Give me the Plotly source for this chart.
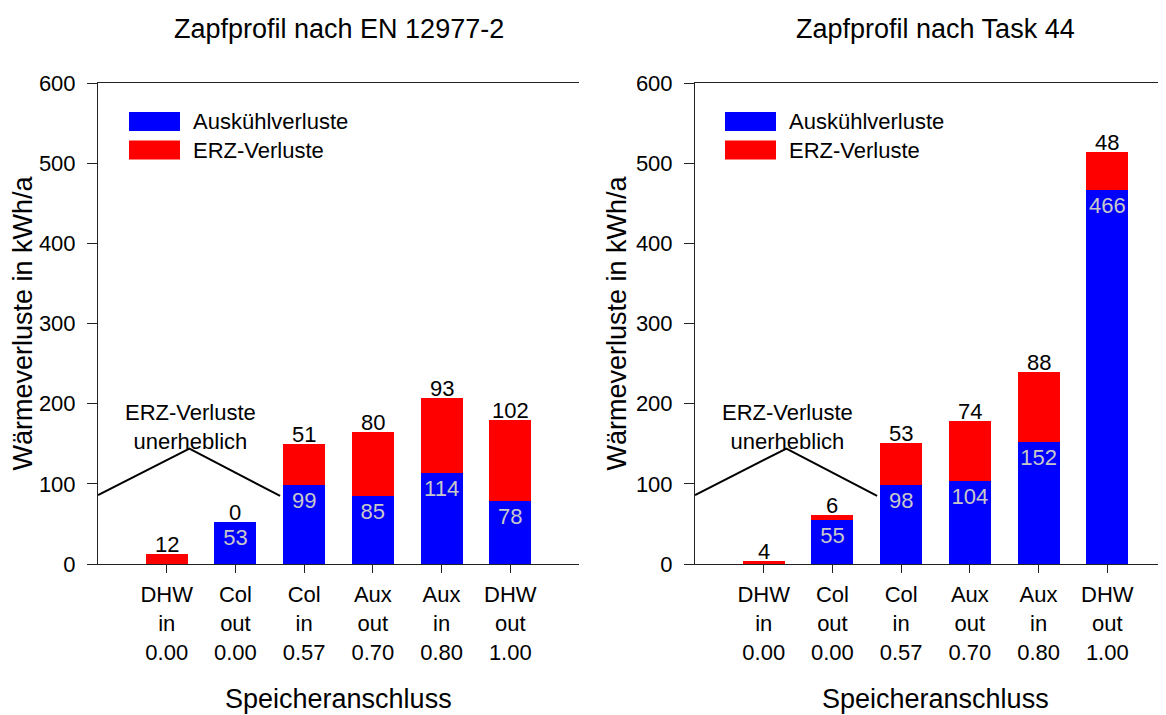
import plotly.graph_objects as go

# ---------------- data ----------------
categories = ["DHW<br>in<br>0.00", "Col<br>out<br>0.00", "Col<br>in<br>0.57",
              "Aux<br>out<br>0.70", "Aux<br>in<br>0.80", "DHW<br>out<br>1.00"]
positions = [0, 1, 2, 3, 4, 5]

en_auskuehl = [0, 53, 99, 85, 114, 78]
en_erz = [12, 0, 51, 80, 93, 102]

task_auskuehl = [0, 55, 98, 104, 152, 466]
task_erz = [4, 6, 53, 74, 88, 48]

y_ticks = [0, 100, 200, 300, 400, 500, 600]

titles = ["Zapfprofil nach EN 12977-2", "Zapfprofil nach Task 44"]
series_names = ["Auskühlverluste", "ERZ-Verluste"]
note_text = "ERZ-Verluste<br>unerheblich"
note_line_x = [-1, 0.33, 1.65]
note_line_y = [86, 144, 85]

# ---------------- style ----------------
FONT = "Liberation Sans, Arial, sans-serif"
BLUE = "#0000FF"
RED = "#FF0000"
INLABEL = "#C8C8C8"
TICK_SIZE = 22
TITLE_SIZE = 27
BAR_W = 0.61

OFF = 8            # page body margin
W, H = 1166 - OFF, 715 - OFF
PLOT_TOP, PLOT_BOT = 83, 564   # page pixels
PLOT_H = PLOT_BOT - PLOT_TOP


def px(p):
    return (p - OFF) / W


def py(p):
    return (PLOT_BOT - p) / PLOT_H


fig = go.Figure()

panels = [
    (en_auskuehl, en_erz, "x", "y"),
    (task_auskuehl, task_erz, "x2", "y2"),
]

annotations = []
for blue_vals, red_vals, xa, ya in panels:
    fig.add_trace(go.Bar(
        x=positions, y=blue_vals, name=series_names[0],
        marker=dict(color=BLUE, line=dict(width=0)), width=BAR_W,
        text=[str(v) if v else "" for v in blue_vals],
        textposition="inside", insidetextanchor="end", constraintext="none",
        textangle=0,
        textfont=dict(color=INLABEL, size=TICK_SIZE, family=FONT),
        xaxis=xa, yaxis=ya, showlegend=False, hoverinfo="skip",
    ))
    fig.add_trace(go.Bar(
        x=positions, y=red_vals, name=series_names[1],
        marker=dict(color=RED, line=dict(width=0)), width=BAR_W,
        xaxis=xa, yaxis=ya, showlegend=False, hoverinfo="skip",
    ))
    fig.add_trace(go.Scatter(
        x=note_line_x, y=note_line_y, mode="lines",
        line=dict(color="black", width=2), cliponaxis=False,
        xaxis=xa, yaxis=ya, showlegend=False, hoverinfo="skip",
    ))
    # red value labels sitting on top of each stack
    for p, b, r in zip(positions, blue_vals, red_vals):
        annotations.append(dict(text=str(r), x=p, y=b + r, xref=xa, yref=ya,
                                showarrow=False, xanchor="center", yanchor="bottom",
                                yshift=-5, font=dict(size=TICK_SIZE, family=FONT, color="black")))

axis_common = dict(showgrid=False, zeroline=False, showline=True, automargin=False,
                   linecolor="#222222", linewidth=1, tickcolor="#222222",
                   tickfont=dict(size=TICK_SIZE, family=FONT, color="black"))

x_px_per_unit = (579 - 98) / 7.0
right_w = 1166 - 695
x2_max = -1 + right_w / x_px_per_unit

fig.update_layout(
    width=W, height=H,
    margin=dict(l=0, r=0, t=PLOT_TOP - OFF, b=H - (PLOT_BOT - OFF)),
    paper_bgcolor="white", plot_bgcolor="white",
    barmode="stack",
    font=dict(family=FONT, color="black", size=TICK_SIZE),
    showlegend=False,
    xaxis=dict(domain=[px(98), px(579)], range=[-1, 6], anchor="y",
               tickvals=positions, ticktext=categories, ticks="outside", ticklen=8,
               ticklabelstandoff=3, mirror=True, **axis_common),
    yaxis=dict(domain=[0, 1], range=[0, 600], anchor="x", tickvals=y_ticks,
               ticks="outside", ticklen=10, mirror=False, ticklabelstandoff=7,
               title=dict(text="Wärmeverluste in kWh/a", font=dict(size=TITLE_SIZE, family=FONT),
                          standoff=1),
               **axis_common),
    yaxis3=dict(overlaying="y", anchor="x", range=[0, 600], tickvals=y_ticks,
                ticks="inside", ticklen=10, showticklabels=False, mirror="ticks",
                **axis_common),
    xaxis2=dict(domain=[px(695), 1.0], range=[-1, x2_max], anchor="y2",
                tickvals=positions, ticktext=categories, ticks="outside", ticklen=8,
                ticklabelstandoff=3, mirror=True, **axis_common),
    yaxis2=dict(domain=[0, 1], range=[0, 600], anchor="x2", tickvals=y_ticks,
                ticks="outside", ticklen=10, mirror=False, ticklabelstandoff=7,
                title=dict(text="Wärmeverluste in kWh/a", font=dict(size=TITLE_SIZE, family=FONT),
                           standoff=1),
                **axis_common),
    yaxis4=dict(overlaying="y2", anchor="x2", range=[0, 600], tickvals=y_ticks,
                ticks="inside", ticklen=10, showticklabels=False, mirror=False,
                **axis_common),
)

for xa, ya, title in [("x", "y", titles[0]), ("x2", "y2", titles[1])]:
    annotations.append(dict(text=title, x=2.5, xref=xa, y=py(29), yref="paper",
                            showarrow=False, xanchor="center", yanchor="middle",
                            font=dict(size=TITLE_SIZE, family=FONT)))
    annotations.append(dict(text="Speicheranschluss", x=2.5, xref=xa, y=py(699), yref="paper",
                            showarrow=False, xanchor="center", yanchor="middle",
                            font=dict(size=TITLE_SIZE, family=FONT)))
    annotations.append(dict(text=note_text, x=0.35, xref=xa, y=171, yref=ya,
                            showarrow=False, xanchor="center", yanchor="middle",
                            font=dict(size=TICK_SIZE, family=FONT)))

# manual legends (large swatches as in original)
shapes = []
legend_left = [129, 725]
for lx in legend_left:
    for j, (col, name) in enumerate([(BLUE, series_names[0]), (RED, series_names[1])]):
        top = 112 + j * 28.5
        shapes.append(dict(type="rect", xref="paper", yref="paper",
                           x0=px(lx), x1=px(lx + 51),
                           y0=py(top + 19), y1=py(top),
                           fillcolor=col, line=dict(width=0)))
        annotations.append(dict(text=name, xref="paper", yref="paper",
                                x=px(lx + 62), y=py(top + 10), showarrow=False,
                                xanchor="left", yanchor="middle",
                                font=dict(size=TICK_SIZE, family=FONT)))

fig.update_layout(annotations=annotations, shapes=shapes)

fig.write_html("out.html")
